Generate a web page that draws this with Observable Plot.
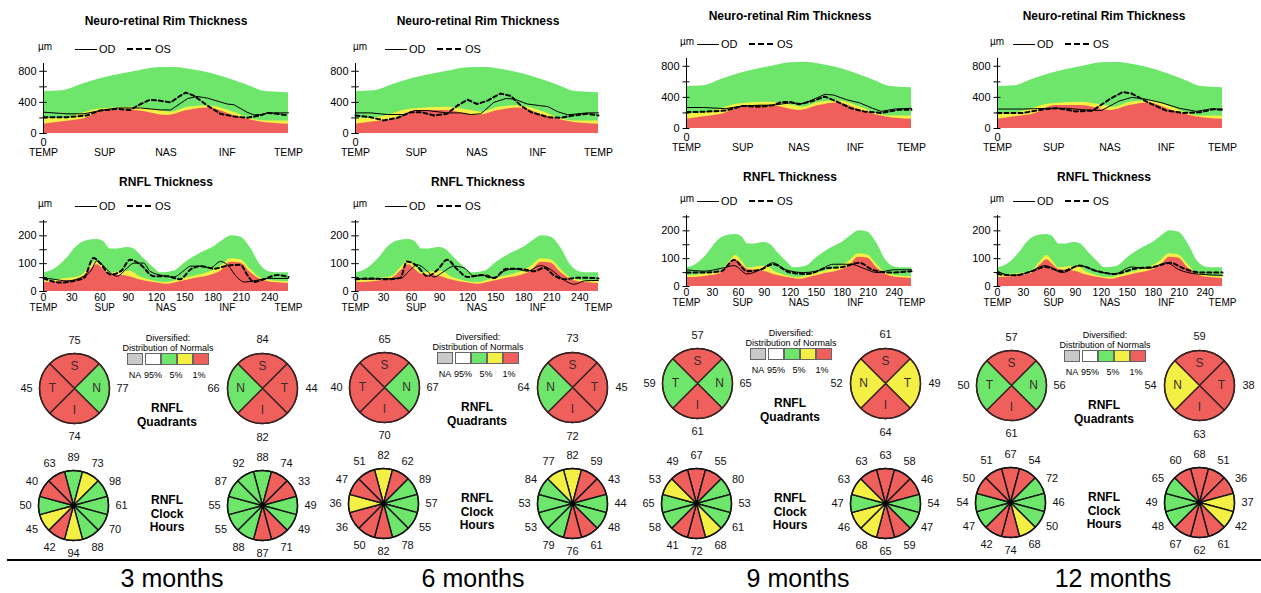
<!DOCTYPE html>
<html>
<head>
<meta charset="utf-8">
<script src="https://cdn.jsdelivr.net/npm/d3@7"></script>
<script src="https://cdn.jsdelivr.net/npm/@observablehq/plot@0.6"></script>
<style>
  html,body{margin:0;padding:0;background:#fff;}
  #root{position:relative;width:1261px;height:593px;overflow:hidden;font-family:"Liberation Sans",Arial,sans-serif;color:#000;}
  .t{position:absolute;white-space:nowrap;line-height:1;transform:translate(-50%,-50%);}
  .abs{position:absolute;}
</style>
</head>
<body>
<div id="root"></div>
<script>
// ---------------- DATA ----------------
const panelNames = ["3 months", "6 months", "9 months", "12 months"];

// Normative bands (upper limits), Neuro-retinal rim thickness (µm) vs. position
const nrrGreen = [[0,540],[20,550],[40,630],[60,705],[80,760],[100,805],[120,845],[140,848],[160,815],[180,765],[200,690],[220,605],[235,540],[260,525]];
const nrrYellow = [[0,190],[25,210],[60,316],[96,337],[124,295],[135,274],[153,337],[174,358],[202,274],[220,190],[238,160],[260,160]];
const nrrRed = [[0,118],[20,150],[43,190],[67,295],[96,295],[131,232],[153,295],[174,328],[202,232],[231,147],[260,118]];

// Normative bands, RNFL thickness (µm)
const rnflGreen = [[0,67],[11,79],[25,120],[35,161],[46,182],[57,187],[64,179],[71,153],[78,153],[89,158],[96,153],[106,120],[117,85],[124,67],[138,73],[152,108],[167,138],[181,161],[191,185],[199,200],[209,196],[220,155],[230,96],[238,73],[248,67],[260,67]];
const rnflYellow = [[0,38],[25,47],[39,55],[50,91],[57,111],[64,91],[71,67],[82,71],[92,73],[103,52],[117,38],[131,32],[145,44],[160,55],[174,67],[188,91],[199,118],[209,114],[220,79],[230,49],[245,38],[260,35]];
const rnflRed = [[0,32],[25,38],[39,47],[50,79],[57,96],[64,79],[71,61],[89,55],[103,41],[117,32],[131,26],[145,35],[160,47],[174,55],[188,73],[199,105],[209,102],[220,67],[230,44],[245,32],[260,29]];

// NRR measured profiles
const nrrOD_3m = [[0,274],[25,253],[43,253],[60,295],[78,328],[103,328],[124,303],[135,303],[153,450],[163,476],[174,455],[195,379],[202,370],[216,274],[223,240],[231,244],[238,265],[260,265]];
const nrrOS_3m = [[0,210],[25,210],[46,232],[60,295],[78,316],[92,303],[103,379],[113,434],[124,421],[135,400],[145,484],[151,526],[160,484],[174,358],[188,253],[202,219],[216,202],[230,232],[238,265],[248,253],[260,232]];
const nrrOD_6m = [[0,265],[16,265],[34,244],[52,244],[63,295],[77,295],[98,265],[113,265],[123,244],[134,253],[148,400],[161,450],[170,442],[184,379],[206,345],[216,282],[227,240],[238,253],[248,265],[260,265]];
const nrrOS_6m = [[0,232],[16,210],[30,168],[45,202],[59,274],[70,274],[84,232],[98,253],[109,358],[120,434],[130,379],[141,421],[155,514],[166,484],[177,358],[188,274],[206,210],[220,202],[234,232],[248,253],[260,232]];
const nrrOD_9m = [[0,270],[20,270],[45,255],[65,290],[85,300],[100,300],[120,330],[135,320],[150,390],[160,440],[170,430],[185,370],[200,330],[215,260],[225,220],[240,250],[260,260]];
const nrrOS_9m = [[0,210],[20,215],[45,230],[65,290],[85,280],[100,300],[110,340],[120,340],[130,310],[145,350],[160,410],[175,340],[190,260],[205,220],[225,200],[245,240],[260,240]];
const nrrOD_12m = [[0,250],[30,250],[60,260],[80,260],[100,240],[120,230],[140,350],[155,400],[170,380],[190,330],[210,260],[230,220],[245,250],[260,250]];
const nrrOS_12m = [[0,200],[30,200],[55,250],[70,260],[90,220],[110,230],[130,380],[145,470],[155,450],[175,330],[195,230],[215,200],[235,210],[250,250],[260,240]];

// RNFL measured profiles
const rnflOD_3m = [[0,49],[11,44],[25,38],[39,49],[50,73],[57,111],[64,91],[71,67],[78,55],[89,85],[96,102],[106,102],[113,73],[124,59],[138,52],[149,75],[156,91],[167,91],[177,85],[188,108],[195,96],[206,49],[213,34],[223,38],[238,47],[260,47]];
const rnflOS_3m = [[0,47],[18,32],[32,38],[43,49],[53,120],[60,102],[71,61],[82,73],[92,114],[103,96],[117,55],[131,55],[145,44],[156,79],[167,91],[181,82],[195,93],[209,96],[216,61],[223,34],[234,44],[248,59],[260,52]];
const rnflOD_6m = [[0,47],[16,44],[34,47],[48,47],[59,79],[66,96],[77,73],[84,52],[95,73],[105,91],[116,85],[127,55],[141,59],[148,47],[159,73],[170,81],[184,73],[198,93],[209,79],[220,49],[234,26],[245,38],[260,40]];
const rnflOS_6m = [[0,44],[16,47],[34,44],[48,49],[55,108],[66,91],[77,55],[88,79],[98,114],[109,79],[120,52],[134,59],[148,49],[162,82],[177,81],[191,73],[202,85],[212,59],[223,44],[237,49],[248,49],[260,47]];
const rnflOD_9m = [[0,60],[20,55],[40,65],[55,75],[70,45],[85,60],[100,85],[115,60],[135,50],[150,55],[170,80],[190,80],[205,65],[220,50],[240,60],[260,60]];
const rnflOS_9m = [[0,50],[20,50],[40,55],[55,95],[70,55],[85,60],[100,80],[120,50],[140,45],[160,65],[180,70],[200,85],[215,60],[235,50],[260,55]];
const rnflOD_12m = [[0,55],[15,40],[35,50],[55,75],[75,50],[95,75],[115,55],[135,45],[155,70],[175,65],[195,85],[210,60],[230,45],[260,40]];
const rnflOS_12m = [[0,45],[20,40],[40,55],[55,70],[75,55],[95,75],[115,55],[135,45],[160,65],[180,70],[200,85],[215,65],[235,50],[260,50]];

// Axis tick values / labels
const nrrYTicks = [0,200,400,600,800];
const nrrYLabels = [0,400,800];
const rnflYTicks = [0,50,100,150,200,250];
const rnflYLabels = [0,100,200];
const rnflXTicks = [0,30,60,90,120,150,180,210,240];
const sectorNames = [[0,"TEMP"],[65,"SUP"],[130,"NAS"],[195,"INF"],[260,"TEMP"]];

// RNFL quadrants: order top, right, bottom, left ; class g=95%, y=5%, r=1%
const quadLettersOD = ["S","N","I","T"];
const quadLettersOS = ["S","T","I","N"];
const quadOD_3m = [75,77,74,45],  quadOD_3m_cls = ["r","g","r","r"];
const quadOS_3m = [84,44,82,66],  quadOS_3m_cls = ["r","r","r","g"];
const quadOD_6m = [65,67,70,40],  quadOD_6m_cls = ["r","g","r","r"];
const quadOS_6m = [73,45,72,64],  quadOS_6m_cls = ["r","r","r","g"];
const quadOD_9m = [57,65,61,59],  quadOD_9m_cls = ["r","g","r","g"];
const quadOS_9m = [61,49,64,52],  quadOS_9m_cls = ["r","y","r","y"];
const quadOD_12m = [57,56,61,50], quadOD_12m_cls = ["r","g","r","g"];
const quadOS_12m = [59,38,63,54], quadOS_12m_cls = ["r","r","r","y"];

// RNFL clock hours: 12, 1, 2, ... 11 o'clock
const clockOD_3m = [89,73,98,61,70,88,94,42,45,50,40,63];
const clockOD_3m_cls = ["g","y","g","g","g","g","y","r","y","g","r","r"];
const clockOS_3m = [88,74,33,49,49,71,87,88,55,55,87,92];
const clockOS_3m_cls = ["g","r","r","g","g","r","r","g","g","g","g","g"];
const clockOD_6m = [82,62,89,57,55,78,82,50,36,36,47,51];
const clockOD_6m_cls = ["y","r","g","g","g","g","r","r","r","y","r","r"];
const clockOS_6m = [82,59,43,44,48,61,76,79,53,53,84,77];
const clockOS_6m_cls = ["y","r","r","g","g","r","r","g","g","g","g","y"];
const clockOD_9m = [67,55,80,53,61,68,72,41,58,65,53,49];
const clockOD_9m_cls = ["r","r","g","g","g","y","r","r","g","g","y","r"];
const clockOS_9m = [63,58,46,54,47,59,65,68,46,47,63,63];
const clockOS_9m_cls = ["r","r","r","g","g","r","r","y","y","g","y","r"];
const clockOD_12m = [67,54,72,46,50,68,74,42,47,54,50,51];
const clockOD_12m_cls = ["r","r","g","g","g","y","r","r","g","g","r","r"];
const clockOS_12m = [68,51,36,37,42,61,62,67,48,49,65,60];
const clockOS_12m_cls = ["r","r","r","y","y","r","r","r","g","g","g","r"];

const panels = [
  {nrrOD:nrrOD_3m, nrrOS:nrrOS_3m, rnflOD:rnflOD_3m, rnflOS:rnflOS_3m, qOD:quadOD_3m, qODc:quadOD_3m_cls, qOS:quadOS_3m, qOSc:quadOS_3m_cls, cOD:clockOD_3m, cODc:clockOD_3m_cls, cOS:clockOS_3m, cOSc:clockOS_3m_cls},
  {nrrOD:nrrOD_6m, nrrOS:nrrOS_6m, rnflOD:rnflOD_6m, rnflOS:rnflOS_6m, qOD:quadOD_6m, qODc:quadOD_6m_cls, qOS:quadOS_6m, qOSc:quadOS_6m_cls, cOD:clockOD_6m, cODc:clockOD_6m_cls, cOS:clockOS_6m, cOSc:clockOS_6m_cls},
  {nrrOD:nrrOD_9m, nrrOS:nrrOS_9m, rnflOD:rnflOD_9m, rnflOS:rnflOS_9m, qOD:quadOD_9m, qODc:quadOD_9m_cls, qOS:quadOS_9m, qOSc:quadOS_9m_cls, cOD:clockOD_9m, cODc:clockOD_9m_cls, cOS:clockOS_9m, cOSc:clockOS_9m_cls},
  {nrrOD:nrrOD_12m, nrrOS:nrrOS_12m, rnflOD:rnflOD_12m, rnflOS:rnflOS_12m, qOD:quadOD_12m, qODc:quadOD_12m_cls, qOS:quadOS_12m, qOSc:quadOS_12m_cls, cOD:clockOD_12m, cODc:clockOD_12m_cls, cOS:clockOS_12m, cOSc:clockOS_12m_cls}
];

// ---------------- LAYOUT / STYLE ----------------
const FONT = '"Liberation Sans", Arial, sans-serif';
const GREEN = "#6de66b", YELLOW = "#f3ef45", RED = "#ef605d", GRAY = "#c9c9c9";
const axisX = [43, 355, 686, 997];        // x of the y-axis line of each panel's charts
const plotW = [245, 243, 225, 225];       // width of the plotting area
const chartDY = [0, 0, -5, -5];
const titleX = [166, 478, 790, 1104];
const muX = [45, 360, 687, 997];
const legX = [75, 385, 697, 1013];
const pieX = [0, 310, 623, 937];
const quadCY = [388, 387, 383, 385];
const clockCY = [505, 503, 503, 502];
const captionX = [172, 473, 798, 1113];

const root = document.getElementById("root");
function txt(s, x, y, size, weight, anchor) {
  const d = document.createElement("div");
  d.className = "t"; d.textContent = s;
  d.style.left = x + "px"; d.style.top = y + "px"; d.style.fontSize = size + "px";
  if (weight) d.style.fontWeight = weight;
  if (anchor === "start") d.style.transform = "translate(0,-50%)";
  root.appendChild(d); return d;
}
function hline(x1, x2, y, w, style, color) {
  const d = document.createElement("div"); d.className = "abs";
  d.style.left = x1 + "px"; d.style.top = (y - w / 2) + "px"; d.style.width = (x2 - x1) + "px";
  d.style.height = "0px"; d.style.borderTop = w + "px " + style + " " + (color || "#000");
  root.appendChild(d);
}
function place(el, left, top) {
  const d = document.createElement("div"); d.className = "abs";
  d.style.left = left + "px"; d.style.top = top + "px"; d.appendChild(el); root.appendChild(d);
}
const svgStyle = {background: "transparent", overflow: "visible", maxWidth: "none", fontFamily: FONT, fontSize: "10.5px", color: "#000"};
const px = d => d[0], py = d => d[1];

function lineChart(w, green, yellow, red, od, os, yMax, yTicks, yLabels, xNums, height, mb, curve) {
  const marks = [
    Plot.areaY(green, {x: px, y: py, fill: GREEN, curve: "monotone-x"}),
    Plot.areaY(yellow, {x: px, y: py, fill: YELLOW, curve: "monotone-x"}),
    Plot.areaY(red, {x: px, y: py, fill: RED, curve: "monotone-x"}),
    Plot.line(od, {x: px, y: py, stroke: "#000", strokeWidth: 1, curve}),
    Plot.line(os, {x: px, y: py, stroke: "#000", strokeWidth: 2, strokeDasharray: "4,3", curve}),
    Plot.ruleX([0], {y1: 0, y2: yMax, stroke: "#000"}),
    Plot.ruleY(yTicks, {y: d => d, x1: -4, x2: 4, stroke: "#000"}),
    Plot.text(yLabels, {y: d => d, frameAnchor: "left", dx: -7, textAnchor: "end", text: d => String(d), fontSize: 11})
  ];
  if (xNums) {
    marks.push(Plot.text(xNums, {x: d => d, frameAnchor: "bottom", dy: 9, text: d => String(d), fontSize: 10.5}));
    marks.push(Plot.text(sectorNames, {x: px, frameAnchor: "bottom", dy: 19, text: py, fontSize: 10}));
  } else {
    marks.push(Plot.text([0], {x: d => d, frameAnchor: "bottom", dy: 12, text: d => String(d), fontSize: 11}));
    marks.push(Plot.text(sectorNames, {x: px, frameAnchor: "bottom", dy: 22, text: py, fontSize: 10.5}));
  }
  return Plot.plot({
    width: 43 + w + 27, height, marginLeft: 43, marginRight: 27, marginTop: 8, marginBottom: mb,
    x: {domain: [0, 260], axis: null},
    y: {domain: [0, yMax], axis: null},
    style: svgStyle,
    marks
  });
}

function pie(values, classes, letters, opts) {
  const n = values.length, step = 360 / n, R = opts.r, LR = opts.lr, W = 72, H = 62;
  const pts = [];
  classes.forEach((c, i) => {
    const a0 = i * step - step / 2;
    pts.push({id: i, c, x: 0, y: 0});
    for (let k = 0; k <= opts.seg; k++) {
      const t = (a0 + step * k / opts.seg) * Math.PI / 180;
      pts.push({id: i, c, x: R * Math.sin(t), y: R * Math.cos(t)});
    }
    pts.push({id: i, c, x: 0, y: 0});
  });
  const lab = values.map((v, i) => { const t = i * step * Math.PI / 180; return {v, x: LR * Math.sin(t), y: LR * Math.cos(t)}; });
  const marks = [
    Plot.line(pts, {x: "x", y: "y", z: "id", fill: "c", stroke: opts.outline, strokeWidth: opts.sw, curve: "linear", strokeLinejoin: "round"}),
    Plot.dot([0], {x: 0, y: 0, r: R, stroke: opts.outline, strokeWidth: opts.sw, fill: "none"}),
    Plot.text(lab, {x: "x", y: "y", text: d => String(d.v), fontSize: 11, fill: "#111"})
  ];
  if (letters) {
    const lp = letters.map((s, i) => { const t = i * step * Math.PI / 180; return {s, x: 22 * Math.sin(t), y: 22 * Math.cos(t)}; });
    marks.push(Plot.text(lp, {x: "x", y: "y", text: "s", fontSize: 12, fill: "#3a2a2a"}));
  } else {
    marks.push(Plot.dot([0], {x: 0, y: 0, r: 2.2, fill: "#000"}));
  }
  return Plot.plot({
    width: 2 * W, height: 2 * H, margin: 0,
    x: {domain: [-W, W], axis: null},
    y: {domain: [-H, H], axis: null},
    color: {domain: ["g", "y", "r", "n"], range: [GREEN, YELLOW, RED, GRAY]},
    style: svgStyle,
    marks
  });
}

function odosLegend(mx, lx, y) {
  txt("µm", mx, y - 2, 10, null);
  hline(lx, lx + 22, y, 1, "solid");
  txt("OD", lx + 24, y, 11, null, "start");
  hline(lx + 52, lx + 76, y, 2, "dashed");
  txt("OS", lx + 80, y, 11, null, "start");
}

function normalsLegend(cx, cy) {
  txt("Diversified:", cx, cy - 50, 9);
  txt("Distribution of Normals", cx, cy - 40, 9);
  const top = cy - 35, h = 12, w = 16;
  const boxes = [[cx - 41, GRAY], [cx - 23, "#fff"], [cx - 7, GREEN], [cx + 9, YELLOW], [cx + 25, RED]];
  boxes.forEach(([x, col]) => {
    const d = document.createElement("div"); d.className = "abs";
    d.style.left = x + "px"; d.style.top = top + "px"; d.style.width = w + "px"; d.style.height = h + "px";
    d.style.background = col; d.style.border = "1px solid #666"; d.style.boxSizing = "border-box";
    root.appendChild(d);
  });
  txt("NA", cx - 33, cy - 13, 9);
  txt("95%", cx - 15, cy - 13, 9);
  txt("5%", cx + 8, cy - 13, 9);
  txt("1%", cx + 31, cy - 13, 9);
}

// ---------------- RENDER ----------------
panels.forEach((p, i) => {
  const left = axisX[i] - 43, dy = chartDY[i];
  // NRR chart
  txt("Neuro-retinal Rim Thickness", titleX[i], 21 + dy, 12, "bold");
  odosLegend(muX[i], legX[i], 49 + dy);
  place(lineChart(plotW[i], nrrGreen, nrrYellow, nrrRed, p.nrrOD, p.nrrOS, 900, nrrYTicks, nrrYLabels, null, 110, 32, "linear"), left, 55 + dy);
  // RNFL chart
  txt("RNFL Thickness", titleX[i], 182 + dy, 12, "bold");
  odosLegend(muX[i], legX[i], 206 + dy);
  place(lineChart(plotW[i], rnflGreen, rnflYellow, rnflRed, p.rnflOD, p.rnflOS, 255, rnflYTicks, rnflYLabels, rnflXTicks, 104, 25, "monotone-x"), left, 212 + dy);

  // Quadrants
  const x0 = pieX[i], qy = quadCY[i], cy = clockCY[i];
  place(pie(p.qOD, p.qODc, quadLettersOD, {r: 35, lr: 48, seg: 24, outline: "#3a2222", sw: 1.4}), x0 + 74 - 72, qy - 62);
  place(pie(p.qOS, p.qOSc, quadLettersOS, {r: 35, lr: 49, seg: 24, outline: "#3a2222", sw: 1.4}), x0 + 262 - 72, qy - 62);
  normalsLegend(x0 + 168, qy);
  txt("RNFL", x0 + 167, qy + 20, 12, "bold");
  txt("Quadrants", x0 + 167, qy + 34, 12, "bold");

  // Clock hours
  place(pie(p.cOD, p.cODc, null, {r: 35, lr: 48, seg: 8, outline: "#151515", sw: 1.4}), x0 + 73 - 72, cy - 62);
  place(pie(p.cOS, p.cOSc, null, {r: 35, lr: 48, seg: 8, outline: "#151515", sw: 1.4}), x0 + 262 - 72, cy - 62);
  txt("RNFL", x0 + 167, cy - 5, 12, "bold");
  txt("Clock", x0 + 167, cy + 9, 12, "bold");
  txt("Hours", x0 + 167, cy + 22, 12, "bold");

  // Caption
  txt(panelNames[i], captionX[i], 578, 25, null);
});
hline(7, 1261, 560, 2, "solid");
</script>
</body>
</html>
